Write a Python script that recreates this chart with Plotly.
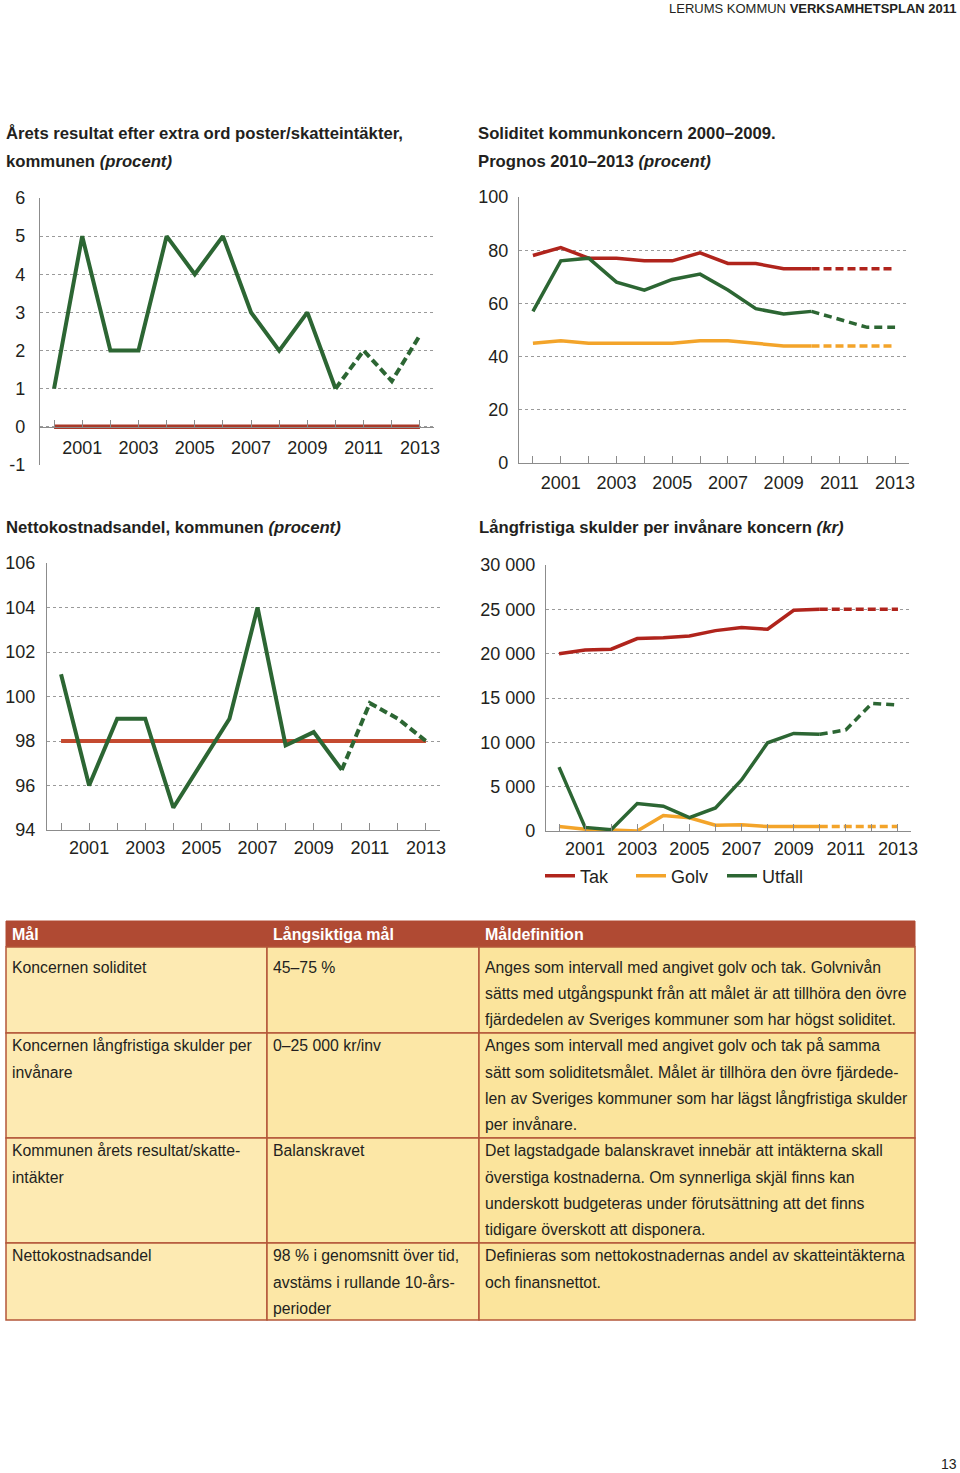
import plotly.graph_objects as go

W, H = 960, 1473

# ---------------- data ----------------
years = [2000, 2001, 2002, 2003, 2004, 2005, 2006, 2007, 2008, 2009, 2010, 2011, 2012, 2013]
years_hist = [2000, 2001, 2002, 2003, 2004, 2005, 2006, 2007, 2008, 2009, 2010]
years_prog = [2010, 2011, 2012, 2013]
year_ticktext = ["", "2001", "", "2003", "", "2005", "", "2007", "", "2009", "", "2011", "", "2013"]

# Chart 1: Årets resultat (procent)
res_utfall = [1, 5, 2, 2, 5, 4, 5, 3, 2, 3, 1]
res_prognos = [1, 2, 1.2, 2.4]
res_balans = [0, 0, 0, 0, 0, 0, 0, 0, 0, 0, 0, 0, 0, 0]
res_yticks = [-1, 0, 1, 2, 3, 4, 5, 6]
res_ytext = ["-1", "0", "1", "2", "3", "4", "5", "6"]

# Chart 2: Soliditet (procent)
sol_tak = [78, 81, 77, 77, 76, 76, 79, 75, 75, 73, 73]
sol_tak_prog = [73, 73, 73, 73]
sol_golv = [45, 46, 45, 45, 45, 45, 46, 46, 45, 44, 44]
sol_golv_prog = [44, 44, 44, 44]
sol_utfall = [57, 76, 77, 68, 65, 69, 71, 65, 58, 56, 57]
sol_utfall_prog = [57, 54, 51, 51]
sol_yticks = [0, 20, 40, 60, 80, 100]
sol_ytext = ["0", "20", "40", "60", "80", "100"]

# Chart 3: Nettokostnadsandel (procent)
netto_utfall = [101, 96, 99, 99, 95, 97, 99, 104, 97.8, 98.4, 96.7]
netto_prog = [96.7, 99.7, 99.0, 98.0]
netto_mal = [98, 98, 98, 98, 98, 98, 98, 98, 98, 98, 98, 98, 98, 98]
netto_yticks = [94, 96, 98, 100, 102, 104, 106]
netto_ytext = ["94", "96", "98", "100", "102", "104", "106"]

# Chart 4: Långfristiga skulder per invånare (kr)
skuld_tak = [20000, 20400, 20500, 21700, 21800, 22000, 22600, 22950, 22750, 24900, 25000]
skuld_tak_prog = [25000, 25000, 25000, 25000]
skuld_golv = [500, 200, 100, 0, 1750, 1500, 650, 700, 500, 500, 500]
skuld_golv_prog = [500, 500, 500, 500]
skuld_utfall = [7200, 400, 150, 3100, 2800, 1500, 2600, 5750, 9950, 11000, 10900]
skuld_utfall_prog = [10900, 11400, 14400, 14200]
skuld_yticks = [0, 5000, 10000, 15000, 20000, 25000, 30000]
skuld_ytext = ["0", "5 000", "10 000", "15 000", "20 000", "25 000", "30 000"]

series_names = ["Tak", "Golv", "Utfall"]

# Texts
header_text = "LERUMS KOMMUN <b>VERKSAMHETSPLAN 2011</b>"
page_number = "13"
title1 = ["<b>Årets resultat efter extra ord poster/skatteintäkter,</b>", "<b>kommunen <i>(procent)</i></b>"]
title2 = ["<b>Soliditet kommunkoncern 2000–2009.</b>", "<b>Prognos 2010–2013 <i>(procent)</i></b>"]
title3 = ["<b>Nettokostnadsandel, kommunen <i>(procent)</i></b>"]
title4 = ["<b>Långfristiga skulder per invånare koncern <i>(kr)</i></b>"]

table_header = ["Mål", "Långsiktiga mål", "Måldefinition"]
table_col1 = [
    ["Koncernen soliditet"],
    ["Koncernen långfristiga skulder per", "invånare"],
    ["Kommunen årets resultat/skatte-", "intäkter"],
    ["Nettokostnadsandel"],
]
table_col2 = [
    ["45–75 %"],
    ["0–25 000 kr/inv"],
    ["Balanskravet"],
    ["98 % i genomsnitt över tid,", "avstäms i rullande 10-års-", "perioder"],
]
table_col3 = [
    ["Anges som intervall med angivet golv och tak. Golvnivån",
     "sätts med utgångspunkt från att målet är att tillhöra den övre",
     "fjärdedelen av Sveriges kommuner som har högst soliditet."],
    ["Anges som intervall med angivet golv och tak på samma",
     "sätt som soliditetsmålet. Målet är tillhöra den övre fjärdede-",
     "len av Sveriges kommuner som har lägst långfristiga skulder",
     "per invånare."],
    ["Det lagstadgade balanskravet innebär att intäkterna skall",
     "överstiga kostnaderna. Om synnerliga skjäl finns kan",
     "underskott budgeteras under förutsättning att det finns",
     "tidigare överskott att disponera."],
    ["Definieras som nettokostnadernas andel av skatteintäkterna",
     "och finansnettot."],
]

# ---------------- styles ----------------
GREEN = "#2C6633"
RED = "#B0241C"
RED1 = "#A83A2A"
RED3 = "#C44A30"
YELLOW = "#F3A42A"
TXT = "#231F20"
AXIS = "#8C8C8C"
GRID = "#9A9A9A"
FONT = "Liberation Sans, Arial, sans-serif"
NARROW = "Liberation Sans Narrow, Arial Narrow, Liberation Sans, Arial, sans-serif"


def px_x(x):
    return x / W


def px_y(y):
    return 1 - y / H


fig = go.Figure()

panels = {
    1: dict(l=40, r=434, t=198, b=465, yr=[-1, 6], tv=res_yticks, tt=res_ytext, ys=10, xs=4),
    2: dict(l=519, r=909, t=197, b=463, yr=[0, 100], tv=sol_yticks, tt=sol_ytext, ys=6, xs=3),
    3: dict(l=47, r=440, t=563, b=830, yr=[94, 106], tv=netto_yticks, tt=netto_ytext, ys=7, xs=1),
    4: dict(l=546, r=911, t=565, b=831, yr=[0, 30000], tv=skuld_yticks, tt=skuld_ytext, ys=6, xs=1),
}

for i, p in panels.items():
    sx = "" if i == 1 else str(i)
    xa = dict(
        domain=[px_x(p["l"]), px_x(p["r"])], range=[1999.5, 2013.5],
        tickmode="array", tickvals=years, ticktext=year_ticktext,
        ticks="inside", ticklen=7, tickcolor=AXIS, tickwidth=1,
        showline=True, linecolor=AXIS, linewidth=1.2, showgrid=False, zeroline=False,
        tickfont=dict(family=FONT, size=18, color=TXT), anchor="y" + sx,
        ticklabelstandoff=p["xs"], automargin=False,
    )
    ya = dict(
        domain=[px_y(p["b"]), px_y(p["t"])], range=p["yr"],
        tickmode="array", tickvals=p["tv"], ticktext=p["tt"],
        ticks="", showline=True, linecolor=AXIS, linewidth=1.2,
        showgrid=True, gridcolor=GRID, griddash="dot", gridwidth=1, zeroline=False,
        tickfont=dict(family=FONT, size=18, color=TXT), anchor="x" + sx,
        ticklabelstandoff=p["ys"], automargin=False,
    )
    if i == 1:
        zero_px = p["t"] + (p["yr"][1] - 0) / (p["yr"][1] - p["yr"][0]) * (p["b"] - p["t"])
        xa["anchor"] = "free"
        xa["position"] = px_y(zero_px)
    fig.update_layout(**{"xaxis" + sx: xa, "yaxis" + sx: ya})


def add_line(xs, ys, color, width, dash, ax, name=None, legend=False):
    sx = "" if ax == 1 else str(ax)
    fig.add_trace(go.Scatter(
        x=xs, y=ys, mode="lines", name=name, showlegend=legend,
        line=dict(color=color, width=width, dash=dash),
        xaxis="x" + sx, yaxis="y" + sx, hoverinfo="skip",
    ))


# Chart 1
add_line(years, res_balans, RED1, 4.5, "solid", 1)
add_line(years_hist, res_utfall, GREEN, 4, "solid", 1)
add_line(years_prog, res_prognos, GREEN, 4, "8px,4px", 1)

# Chart 2
add_line(years_hist, sol_golv, YELLOW, 3.5, "solid", 2)
add_line(years_prog, sol_golv_prog, YELLOW, 3.5, "8px,4px", 2)
add_line(years_hist, sol_tak, RED, 3.5, "solid", 2)
add_line(years_prog, sol_tak_prog, RED, 3.5, "8px,4px", 2)
add_line(years_hist, sol_utfall, GREEN, 3.5, "solid", 2)
add_line(years_prog, sol_utfall_prog, GREEN, 3.5, "8px,5px", 2)

# Chart 3
add_line(years, netto_mal, RED3, 4, "solid", 3)
add_line(years_hist, netto_utfall, GREEN, 4, "solid", 3)
add_line(years_prog, netto_prog, GREEN, 4, "8px,4px", 3)

# Chart 4 (legend entries)
add_line(years_hist, skuld_tak, RED, 3.5, "solid", 4, series_names[0], True)
add_line(years_prog, skuld_tak_prog, RED, 3.5, "8px,4px", 4)
add_line(years_hist, skuld_golv, YELLOW, 3.5, "solid", 4, series_names[1], True)
add_line(years_prog, skuld_golv_prog, YELLOW, 3.5, "8px,4px", 4)
add_line(years_hist, skuld_utfall, GREEN, 3.5, "solid", 4, series_names[2], True)
add_line(years_prog, skuld_utfall_prog, GREEN, 3.5, "8px,5px", 4)

annotations = []


def text(x, y, s, size=16, color=TXT, family=FONT, xanchor="left", yanchor="middle"):
    annotations.append(dict(
        x=px_x(x), y=px_y(y), xref="paper", yref="paper", text=s, showarrow=False,
        xanchor=xanchor, yanchor=yanchor, align="left",
        font=dict(family=family, size=size, color=color),
    ))


text(959, 8, header_text, size=13, family=NARROW, xanchor="right")
text(959, 1464, page_number, size=14, xanchor="right")

for (x, y0), lines in [((4, 134), title1), ((476, 134), title2), ((4, 527), title3), ((477, 527), title4)]:
    for k, s in enumerate(lines):
        text(x, y0 + 27 * k, s, size=16.7, family=NARROW)

# ---------------- table ----------------
shapes = []
col_x = [6, 267, 479, 915]
header_top, header_bot = 921, 947
row_edges = [947, 1033, 1138, 1243, 1320]
row_first_line = [0, 3, 7, 11]
line_pitch = 26.25
first_line_y = 967
HEAD_FILL = "#B04A33"
BORDER = "#B4573A"
CELL_FILLS = ["#FDEAB2", "#FCE7A6", "#FBE49C"]

shapes.append(dict(type="rect", xref="paper", yref="paper",
                   x0=px_x(col_x[0]), x1=px_x(col_x[3]), y0=px_y(header_bot), y1=px_y(header_top),
                   fillcolor=HEAD_FILL, line=dict(color=HEAD_FILL, width=1), layer="below"))
for r in range(4):
    for c in range(3):
        shapes.append(dict(type="rect", xref="paper", yref="paper",
                           x0=px_x(col_x[c]), x1=px_x(col_x[c + 1]),
                           y0=px_y(row_edges[r + 1]), y1=px_y(row_edges[r]),
                           fillcolor=CELL_FILLS[c], line=dict(color=BORDER, width=1.5), layer="below"))

for c, h in enumerate(table_header):
    text(col_x[c] + 4, (header_top + header_bot) / 2, "<b>" + h + "</b>", size=16, color="white")

for c, col in enumerate([table_col1, table_col2, table_col3]):
    for r, lines in enumerate(col):
        for k, ln in enumerate(lines):
            text(col_x[c] + 4, first_line_y + line_pitch * (row_first_line[r] + k), ln, size=15.8)

fig.update_layout(
    width=W, height=H, margin=dict(l=0, r=0, t=0, b=0, pad=0, autoexpand=False),
    paper_bgcolor="white", plot_bgcolor="rgba(0,0,0,0)",
    annotations=annotations, shapes=shapes,
    showlegend=True,
    legend=dict(orientation="h", x=px_x(540), y=px_y(876), xanchor="left", yanchor="middle",
                font=dict(family=FONT, size=18, color=TXT), bgcolor="rgba(0,0,0,0)",
                entrywidth=46, entrywidthmode="pixels", itemwidth=30, tracegroupgap=0),
)

page_css = ("var s=document.createElement('style');"
            "s.innerHTML='html,body{margin:0;padding:0;overflow:hidden;}"
            ".plotly-graph-div{position:absolute;top:0;left:0;}';"
            "document.head.appendChild(s);")

fig.write_html("out.html", config={"displayModeBar": False}, post_script=page_css)
